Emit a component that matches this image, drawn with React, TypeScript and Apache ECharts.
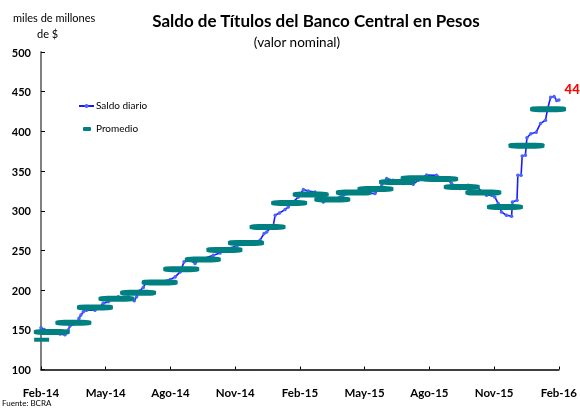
import React, { useEffect, useRef } from 'react';
import * as echarts from 'echarts';

// Etiquetas del eje X (cada 3 meses, desde Feb-14)
const tickLabels = ['Feb-14', 'May-14', 'Ago-14', 'Nov-14', 'Feb-15', 'May-15', 'Ago-15', 'Nov-15', 'Feb-16'];

// Saldo diario: meses transcurridos desde feb-2014 y valor (miles de millones de $)
const saldoMes = [
  0.0, 0.15, 0.26, 0.57, 0.88, 1.11, 1.26, 1.34, 1.5, 1.69, 1.76, 1.85, 1.96, 2.11, 2.5, 2.73, 2.88, 3.12, 3.35, 3.58,
  4.04, 4.32, 4.43, 4.58, 4.74, 4.84, 5.05, 5.52, 5.99, 6.22, 6.45, 6.63, 6.91, 7.14, 7.3, 7.99, 8.3, 8.61, 9.07, 9.46,
  9.61, 10.15, 10.34, 10.46, 10.77, 10.85, 11.05, 11.31, 11.46, 11.69, 11.93, 12.16, 12.39, 12.7, 12.78, 13.08, 13.39,
  13.86, 14.01, 14.63, 15.48, 15.79, 16.02, 16.32, 16.79, 17.25, 17.48, 17.87, 18.33, 18.41, 18.87, 19.03, 19.41, 19.8,
  20.19, 20.65, 20.88, 21.03, 21.19, 21.34, 21.57, 21.81, 21.85, 22.06, 22.1, 22.25, 22.3, 22.45, 22.52, 22.7, 22.95,
  23.15, 23.38, 23.48, 23.62, 23.78, 23.9, 24.0,
];
const saldoValor = [
  152.6, 150.5, 147.5, 147.5, 144.6, 143.8, 149.7, 154.7, 157.2, 160.1, 164.4, 168.6, 172.7, 174.8, 174.8, 179.0, 183.3,
  185.3, 189.6, 191.6, 191.6, 186.5, 191.6, 199.1, 203.4, 208.4, 209.7, 210.4, 213.4, 216.7, 223.0, 235.6, 237.7, 233.6,
  237.7, 244.0, 246.9, 252.4, 255.3, 260.8, 257.9, 262.9, 271.3, 273.3, 281.8, 294.3, 297.2, 301.5, 304.8, 311.1, 317.4,
  326.7, 324.9, 323.6, 317.4, 311.1, 313.2, 317.4, 319.5, 323.6, 321.6, 332.1, 340.5, 338.4, 334.2, 333.4, 338.4, 345.0,
  344.7, 342.5, 338.4, 334.2, 327.9, 332.1, 330.0, 319.5, 319.5, 317.4, 309.1, 298.5, 294.3, 293.1, 311.1, 313.2, 344.7,
  344.7, 369.0, 370.0, 392.0, 397.0, 399.0, 410.0, 414.0, 428.5, 443.0, 444.0, 439.0, 439.5,
];

// Promedio mensual (centrado a mitad de mes)
const promedioMes = [0.03, 0.5, 1.5, 2.5, 3.5, 4.5, 5.5, 6.5, 7.5, 8.5, 9.5, 10.5, 11.5, 12.5, 13.5, 14.5, 15.5, 16.5, 17.5, 18.5, 19.5, 20.5, 21.5, 22.5, 23.5];
const promedioValor = [137.5, 147.2, 158.9, 178.2, 189.1, 196.6, 209.7, 226.4, 238.6, 250.7, 259.5, 279.6, 309.8, 320.4, 314.1, 322.9, 327.4, 336.2, 341.0, 340.0, 330.0, 322.9, 304.8, 382.0, 428.0];

const BLUE = '#1a1aff';
const BLUE_MARK = '#4a66ff';
const TEAL = '#008080';

export default function App() {
  const ref = useRef<HTMLDivElement>(null);
  useEffect(() => {
    const chart = echarts.init(ref.current!, null, { renderer: 'svg' });
    const font = 'Lato, "Open Sans", sans-serif';
    const last = saldoMes.length - 1;
    const lineData = saldoMes.map((m, i) =>
      i === last
        ? {
            value: [m, saldoValor[i]],
            label: {
              show: true,
              position: 'right',
              distance: 4,
              offset: [0, -11],
              // only the part of the value label visible in the original (cut at the edge)
              formatter: (p: any) => String(Math.round(p.value[1])).slice(0, 2),
              color: '#ff0000',
              fontWeight: 900,
              fontSize: 13,
              fontFamily: 'Lato',
            },
          }
        : [m, saldoValor[i]]
    );
    const promData = promedioMes.map((m, i) =>
      i === 0
        ? { value: [m, promedioValor[i]], symbol: 'rect', symbolSize: [15, 4] }
        : [m, promedioValor[i]]
    );
    chart.setOption({
      animation: false,
      textStyle: { fontFamily: font },
      title: [
        {
          text: 'Saldo de Títulos del Banco Central en Pesos',
          left: 311,
          top: 7,
          textAlign: 'center',
          textStyle: { fontSize: 17, fontWeight: 'bold', color: '#000', fontFamily: font },
        },
        {
          text: '(valor nominal)',
          left: 292,
          top: 30,
          textAlign: 'center',
          textStyle: { fontSize: 13.5, fontWeight: 'normal', color: '#000', fontFamily: font },
        },
      ],
      grid: { left: 41, right: 19, top: 52, bottom: 39.5, containLabel: false },
      xAxis: {
        type: 'value',
        min: 0,
        max: 24,
        interval: 3,
        splitLine: { show: false },
        axisLine: { lineStyle: { color: '#000', width: 1.5 } },
        axisTick: { show: true, inside: true, length: 3, lineStyle: { color: '#000' } },
        axisLabel: {
          margin: 17,
          fontSize: 11.5,
          fontWeight: 'bold',
          color: '#000',
          fontFamily: font,
          formatter: (v: number) => tickLabels[Math.round(v / 3)] ?? '',
        },
      },
      yAxis: {
        type: 'value',
        min: 100,
        max: 500,
        interval: 50,
        splitLine: { show: false },
        axisLine: { show: true, lineStyle: { color: '#808080', width: 2 } },
        axisTick: { show: true, inside: true, length: 4, lineStyle: { color: '#000' } },
        axisLabel: { margin: 10, fontSize: 11, fontWeight: 'bold', color: '#000', fontFamily: font },
      },
      series: [
        {
          name: 'Saldo diario',
          type: 'line',
          data: lineData,
          clip: false,
          symbol: 'circle',
          symbolSize: 3.5,
          showAllSymbol: true,
          itemStyle: { color: BLUE_MARK },
          lineStyle: { color: BLUE, width: 1.6 },
          z: 2,
        },
        {
          name: 'Promedio',
          type: 'scatter',
          data: promData,
          symbol: 'roundRect',
          symbolSize: [36, 6],
          itemStyle: { color: TEAL, opacity: 1 },
          z: 3,
        },
      ],
      graphic: [
        { type: 'text', left: 13, top: 12, style: { text: 'miles de millones', fontSize: 11, fill: '#000', fontFamily: font } },
        { type: 'text', left: 37, top: 28, style: { text: 'de $', fontSize: 11, fill: '#000', fontFamily: font } },
        { type: 'text', left: 2, top: 399, style: { text: 'Fuente: BCRA', fontSize: 8, fill: '#000', fontFamily: font } },
        { type: 'line', shape: { x1: 79, y1: 106, x2: 94, y2: 106 }, style: { stroke: BLUE, lineWidth: 2 } },
        { type: 'circle', shape: { cx: 86.5, cy: 106, r: 2 }, style: { fill: BLUE_MARK } },
        { type: 'text', left: 96, top: 100, style: { text: 'Saldo diario', fontSize: 10, fill: '#000', fontFamily: font } },
        { type: 'rect', shape: { x: 83, y: 127, width: 8, height: 4, r: 1 }, style: { fill: TEAL } },
        { type: 'text', left: 96, top: 123, style: { text: 'Promedio', fontSize: 10, fill: '#000', fontFamily: font } },
      ],
    });
    return () => chart.dispose();
  }, []);
  return <div ref={ref} style={{ position: 'fixed', left: 0, top: 0, width: 580, height: 409 }} />;
}
